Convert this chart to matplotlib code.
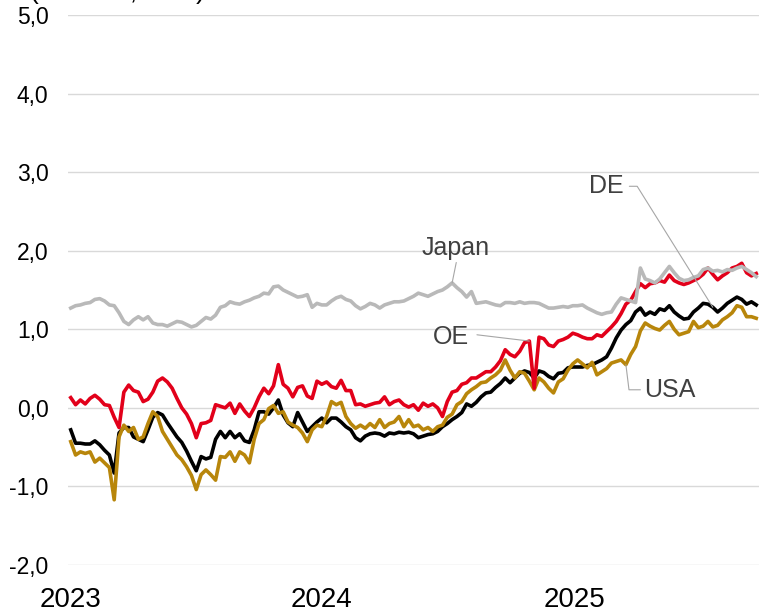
import matplotlib

matplotlib.use("Agg")

import matplotlib.pyplot as plt
import pandas as pd


START = "2023-01-02"

# weekly values, Jan 2023 - Sep 2025
japan = [
    1.27, 1.30, 1.31, 1.33, 1.34, 1.38, 1.39, 1.36, 1.31, 1.30,
    1.21, 1.10, 1.06, 1.12, 1.16, 1.12, 1.16, 1.08, 1.06, 1.06,
    1.04, 1.07, 1.10, 1.09, 1.06, 1.03, 1.05, 1.10, 1.15, 1.13,
    1.18, 1.28, 1.30, 1.35, 1.33, 1.32, 1.35, 1.37, 1.40, 1.42,
    1.46, 1.45, 1.54, 1.55, 1.50, 1.47, 1.44, 1.41, 1.42, 1.44,
    1.28, 1.33, 1.31, 1.31, 1.36, 1.40, 1.42, 1.38, 1.36, 1.30,
    1.26, 1.29, 1.33, 1.31, 1.27, 1.31, 1.33, 1.35, 1.35, 1.36,
    1.39, 1.42, 1.46, 1.44, 1.42, 1.45, 1.48, 1.50, 1.54, 1.59,
    1.53, 1.48, 1.41, 1.48, 1.33, 1.34, 1.35, 1.33, 1.31, 1.30,
    1.34, 1.34, 1.33, 1.35, 1.33, 1.34, 1.34, 1.33, 1.30, 1.27,
    1.27, 1.28, 1.29, 1.28, 1.30, 1.30, 1.31, 1.27, 1.24, 1.21,
    1.19, 1.21, 1.22, 1.32, 1.40, 1.38, 1.36, 1.34, 1.78, 1.64,
    1.62, 1.59, 1.64, 1.72, 1.80, 1.72, 1.65, 1.62, 1.63, 1.66,
    1.68, 1.76, 1.78, 1.74, 1.75, 1.73, 1.76, 1.75, 1.78, 1.80,
    1.76, 1.72, 1.67,
]

oe = [
    0.13, 0.04, 0.10, 0.05, 0.12, 0.16, 0.11, 0.04, 0.03, -0.12,
    -0.25, 0.20, 0.29, 0.22, 0.20, 0.08, 0.11, 0.20, 0.34, 0.38,
    0.33, 0.25, 0.12, 0.00, -0.08, -0.20, -0.38, -0.20, -0.19, -0.16,
    0.04, 0.02, 0.00, 0.06, -0.07, 0.05, -0.04, -0.11, 0.00, 0.14,
    0.25, 0.18, 0.28, 0.55, 0.30, 0.25, 0.14, 0.26, 0.28, 0.15,
    0.12, 0.34, 0.30, 0.33, 0.27, 0.25, 0.35, 0.22, 0.22, 0.04,
    0.05, 0.02, 0.04, 0.06, 0.07, 0.14, 0.04, 0.08, 0.10, 0.04,
    0.01, 0.04, -0.03, 0.06, 0.02, 0.05, 0.00, -0.11, 0.08, 0.20,
    0.22, 0.30, 0.32, 0.38, 0.38, 0.42, 0.46, 0.46, 0.52, 0.60,
    0.74, 0.68, 0.65, 0.72, 0.83, 0.85, 0.25, 0.90, 0.88, 0.80,
    0.78, 0.85, 0.87, 0.90, 0.95, 0.93, 0.90, 0.88, 0.88, 0.93,
    0.91, 0.97, 1.03, 1.10, 1.20, 1.32, 1.37, 1.48, 1.58, 1.53,
    1.58, 1.59, 1.62, 1.60, 1.69, 1.62, 1.59, 1.57, 1.59, 1.62,
    1.65, 1.70, 1.78, 1.70, 1.63, 1.68, 1.72, 1.78, 1.80, 1.84,
    1.72, 1.68, 1.71,
]

de = [
    -0.28, -0.45, -0.45, -0.46, -0.46, -0.42, -0.47, -0.54, -0.60, -0.83,
    -0.32, -0.25, -0.25, -0.37, -0.40, -0.43, -0.28, -0.12, -0.06, -0.09,
    -0.19, -0.28, -0.37, -0.44, -0.55, -0.68, -0.80, -0.62, -0.65, -0.63,
    -0.40, -0.30, -0.38, -0.30, -0.38, -0.33, -0.42, -0.44, -0.28, -0.05,
    -0.05, -0.08, 0.00, 0.10, -0.09, -0.19, -0.24, -0.06, -0.18, -0.30,
    -0.24, -0.18, -0.13, -0.19, -0.13, -0.13, -0.18, -0.24, -0.28, -0.38,
    -0.42, -0.36, -0.33, -0.32, -0.33, -0.36, -0.32, -0.33, -0.31, -0.32,
    -0.31, -0.33, -0.38, -0.36, -0.34, -0.33, -0.30, -0.24, -0.20, -0.15,
    -0.11, -0.06, 0.05, 0.02, 0.07, 0.14, 0.19, 0.20, 0.26, 0.31,
    0.38, 0.32, 0.38, 0.44, 0.47, 0.45, 0.38, 0.47, 0.45, 0.40,
    0.37, 0.44, 0.45, 0.51, 0.52, 0.52, 0.52, 0.54, 0.55, 0.58,
    0.61, 0.65, 0.76, 0.89, 0.99, 1.06, 1.11, 1.22, 1.27, 1.18,
    1.22, 1.19, 1.26, 1.24, 1.30, 1.22, 1.17, 1.13, 1.14, 1.22,
    1.27, 1.33, 1.32, 1.28, 1.22, 1.27, 1.33, 1.37, 1.41, 1.38,
    1.32, 1.35, 1.31,
]

usa = [
    -0.43, -0.60, -0.56, -0.58, -0.56, -0.69, -0.64, -0.70, -0.76, -1.17,
    -0.37, -0.22, -0.30, -0.25, -0.40, -0.37, -0.20, -0.05, -0.11, -0.30,
    -0.40, -0.50, -0.60, -0.66, -0.75, -0.86, -1.04, -0.85, -0.79, -0.85,
    -0.92, -0.62, -0.63, -0.56, -0.68, -0.56, -0.60, -0.70, -0.40, -0.20,
    -0.15, -0.01, 0.03, -0.07, -0.05, -0.18, -0.22, -0.25, -0.32, -0.43,
    -0.28, -0.22, -0.24, -0.11, 0.08, 0.04, 0.07, -0.11, -0.20, -0.26,
    -0.22, -0.26, -0.20, -0.25, -0.15, -0.25, -0.20, -0.18, -0.11, -0.24,
    -0.15, -0.24, -0.22, -0.28, -0.25, -0.30, -0.24, -0.22, -0.12, -0.08,
    0.04, 0.08, 0.18, 0.23, 0.27, 0.32, 0.33, 0.38, 0.42, 0.48,
    0.61, 0.48, 0.38, 0.46, 0.44, 0.34, 0.23, 0.38, 0.33, 0.25,
    0.19, 0.33, 0.37, 0.48, 0.56, 0.61, 0.56, 0.51, 0.58, 0.42,
    0.46, 0.50, 0.57, 0.59, 0.61, 0.55, 0.68, 0.78, 0.98, 1.08,
    1.04, 1.01, 0.99, 1.05, 1.10, 1.00, 0.93, 0.95, 0.97, 1.10,
    1.02, 1.04, 1.10, 1.03, 1.05, 1.12, 1.16, 1.21, 1.30, 1.28,
    1.16, 1.16, 1.14,
]

YEARS = ["2023", "2024", "2025"]
Y_TICKS = [-2.0, -1.0, 0.0, 1.0, 2.0, 3.0, 4.0, 5.0]

LABEL_COLOR = "#404040"
LEADER = dict(arrowstyle="-", color="#a6a6a6", lw=0.8, shrinkA=0, shrinkB=0)
LINE_W = 2.6


def fmt_tick(v):
    return f"{v:.1f}".replace(".", ",")


def main():
    plt.rcParams["font.family"] = ["Liberation Sans", "DejaVu Sans"]

    dates = pd.date_range(START, periods=len(japan), freq="7D")

    fig = plt.figure(figsize=(7.59, 6.14), dpi=100)
    ax = fig.add_axes([68 / 759, 49 / 614, 691 / 759, 550 / 614])

    ax.plot(dates, de, color="#000000", lw=LINE_W)
    ax.plot(dates, usa, color="#b8860b", lw=LINE_W)
    ax.plot(dates, oe, color="#e2001a", lw=LINE_W)
    ax.plot(dates, japan, color="#b9b9b9", lw=LINE_W)

    ax.set_ylim(-2, 5)
    ax.set_xlim(pd.Timestamp("2022-12-29"), pd.Timestamp("2025-09-26"))

    ax.set_yticks(Y_TICKS)
    ax.set_yticklabels([fmt_tick(v) for v in Y_TICKS])
    ax.set_xticks([pd.Timestamp(f"{y}-01-01") for y in YEARS])
    ax.set_xticklabels(YEARS)

    ax.grid(axis="y", color="#d9d9d9", lw=1)
    ax.grid(axis="x", visible=False)
    ax.set_axisbelow(True)
    for spine in ax.spines.values():
        spine.set_visible(False)
    ax.tick_params(axis="y", length=0, pad=14, labelsize=16.5)
    ax.tick_params(axis="x", length=0, pad=16, labelsize=20)

    # series labels with leader lines
    ax.text(pd.Timestamp("2024-07-13"), 2.04, "Japan", ha="center", va="center",
            fontsize=18, color=LABEL_COLOR)
    ax.annotate("", xy=(dates[79], japan[79]),
                xytext=(pd.Timestamp("2024-07-14"), 1.85), arrowprops=LEADER)

    ax.text(pd.Timestamp("2024-07-06"), 0.90, "OE", ha="center", va="center",
            fontsize=18, color=LABEL_COLOR)
    ax.annotate("", xy=(dates[95], oe[95]),
                xytext=(pd.Timestamp("2024-08-13"), 0.93), arrowprops=LEADER)

    ax.text(pd.Timestamp("2025-02-16"), 2.82, "DE", ha="center", va="center",
            fontsize=18, color=LABEL_COLOR)
    ax.annotate("", xy=(dates[133], de[133]),
                xytext=(pd.Timestamp("2025-03-22"), 2.82),
                arrowprops=dict(LEADER, connectionstyle="angle,angleA=0,angleB=122,rad=0"))

    ax.text(pd.Timestamp("2025-05-19"), 0.23, "USA", ha="center", va="center",
            fontsize=18, color=LABEL_COLOR)
    ax.annotate("", xy=(dates[115], usa[115]),
                xytext=(pd.Timestamp("2025-04-07"), 0.23),
                arrowprops=dict(LEADER, connectionstyle="angle,angleA=0,angleB=97,rad=0"))

    # unit line sits above the frame
    fig.text(30 / 759, 1 + 1 / 614, "(Rendite, in %)", fontsize=19,
             ha="left", va="baseline")

    fig.savefig("out.png", dpi=100)
    plt.close(fig)


if __name__ == "__main__":
    main()
